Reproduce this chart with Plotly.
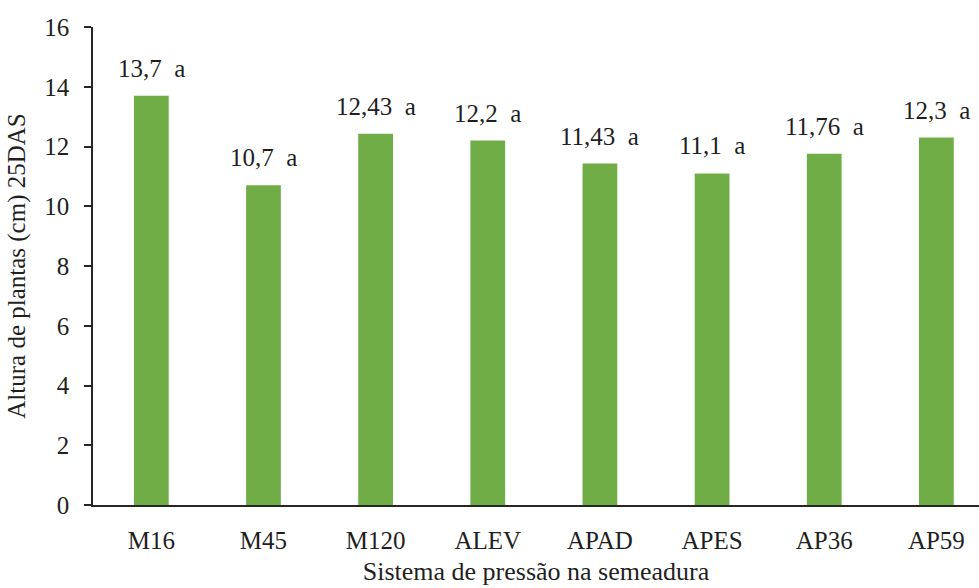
import plotly.graph_objects as go

categorias = ["M16", "M45", "M120", "ALEV", "APAD", "APES", "AP36", "AP59"]
altura = [13.7, 10.7, 12.43, 12.2, 11.43, 11.1, 11.76, 12.3]
rotulos = ["13,7", "10,7", "12,43", "12,2", "11,43", "11,1", "11,76", "12,3"]
letras = ["a", "a", "a", "a", "a", "a", "a", "a"]
y_ticks = [0, 2, 4, 6, 8, 10, 12, 14, 16]

fonte = dict(family="Liberation Serif", size=25, color="#1f1f1f")
fonte_titulo = dict(family="Liberation Serif", size=26, color="#1f1f1f")

fig = go.Figure(
    go.Bar(
        x=list(range(len(categorias))),
        y=altura,
        width=0.31,
        marker=dict(color="#70AD47", line=dict(width=0)),
        hoverinfo="skip",
    )
)

# value label and significance letter above each bar
for i, (v, r, l) in enumerate(zip(altura, rotulos, letras)):
    fig.add_annotation(
        x=i, y=v, text=f"{r}\u00a0\u00a0{l}", showarrow=False,
        yanchor="bottom", yshift=12, font=fonte,
    )

fig.update_layout(
    width=979, height=588,
    margin=dict(l=93, r=0, t=27, b=83),
    plot_bgcolor="white", paper_bgcolor="white",
    showlegend=False,
    font=fonte,
    xaxis=dict(
        range=[-0.52, 7.38],
        tickmode="array",
        tickvals=list(range(len(categorias))),
        ticktext=categorias,
        tickfont=fonte,
        showgrid=False, zeroline=False,
        showline=True, linecolor="#262626", linewidth=1.5,
        ticks="", ticklabelstandoff=12,
        title=dict(text="Sistema de pressão na semeadura", font=fonte_titulo, standoff=9),
    ),
    yaxis=dict(
        range=[0, 16],
        tickvals=y_ticks,
        tickfont=fonte,
        showgrid=False, zeroline=False,
        showline=True, linecolor="#262626", linewidth=1.5,
        ticks="outside", ticklen=7, tickcolor="#262626", tickwidth=1.5,
        ticklabelstandoff=10,
        title=dict(text="Altura de plantas (cm) 25DAS", font=fonte, standoff=12),
    ),
)

fig.write_html("out.html")
